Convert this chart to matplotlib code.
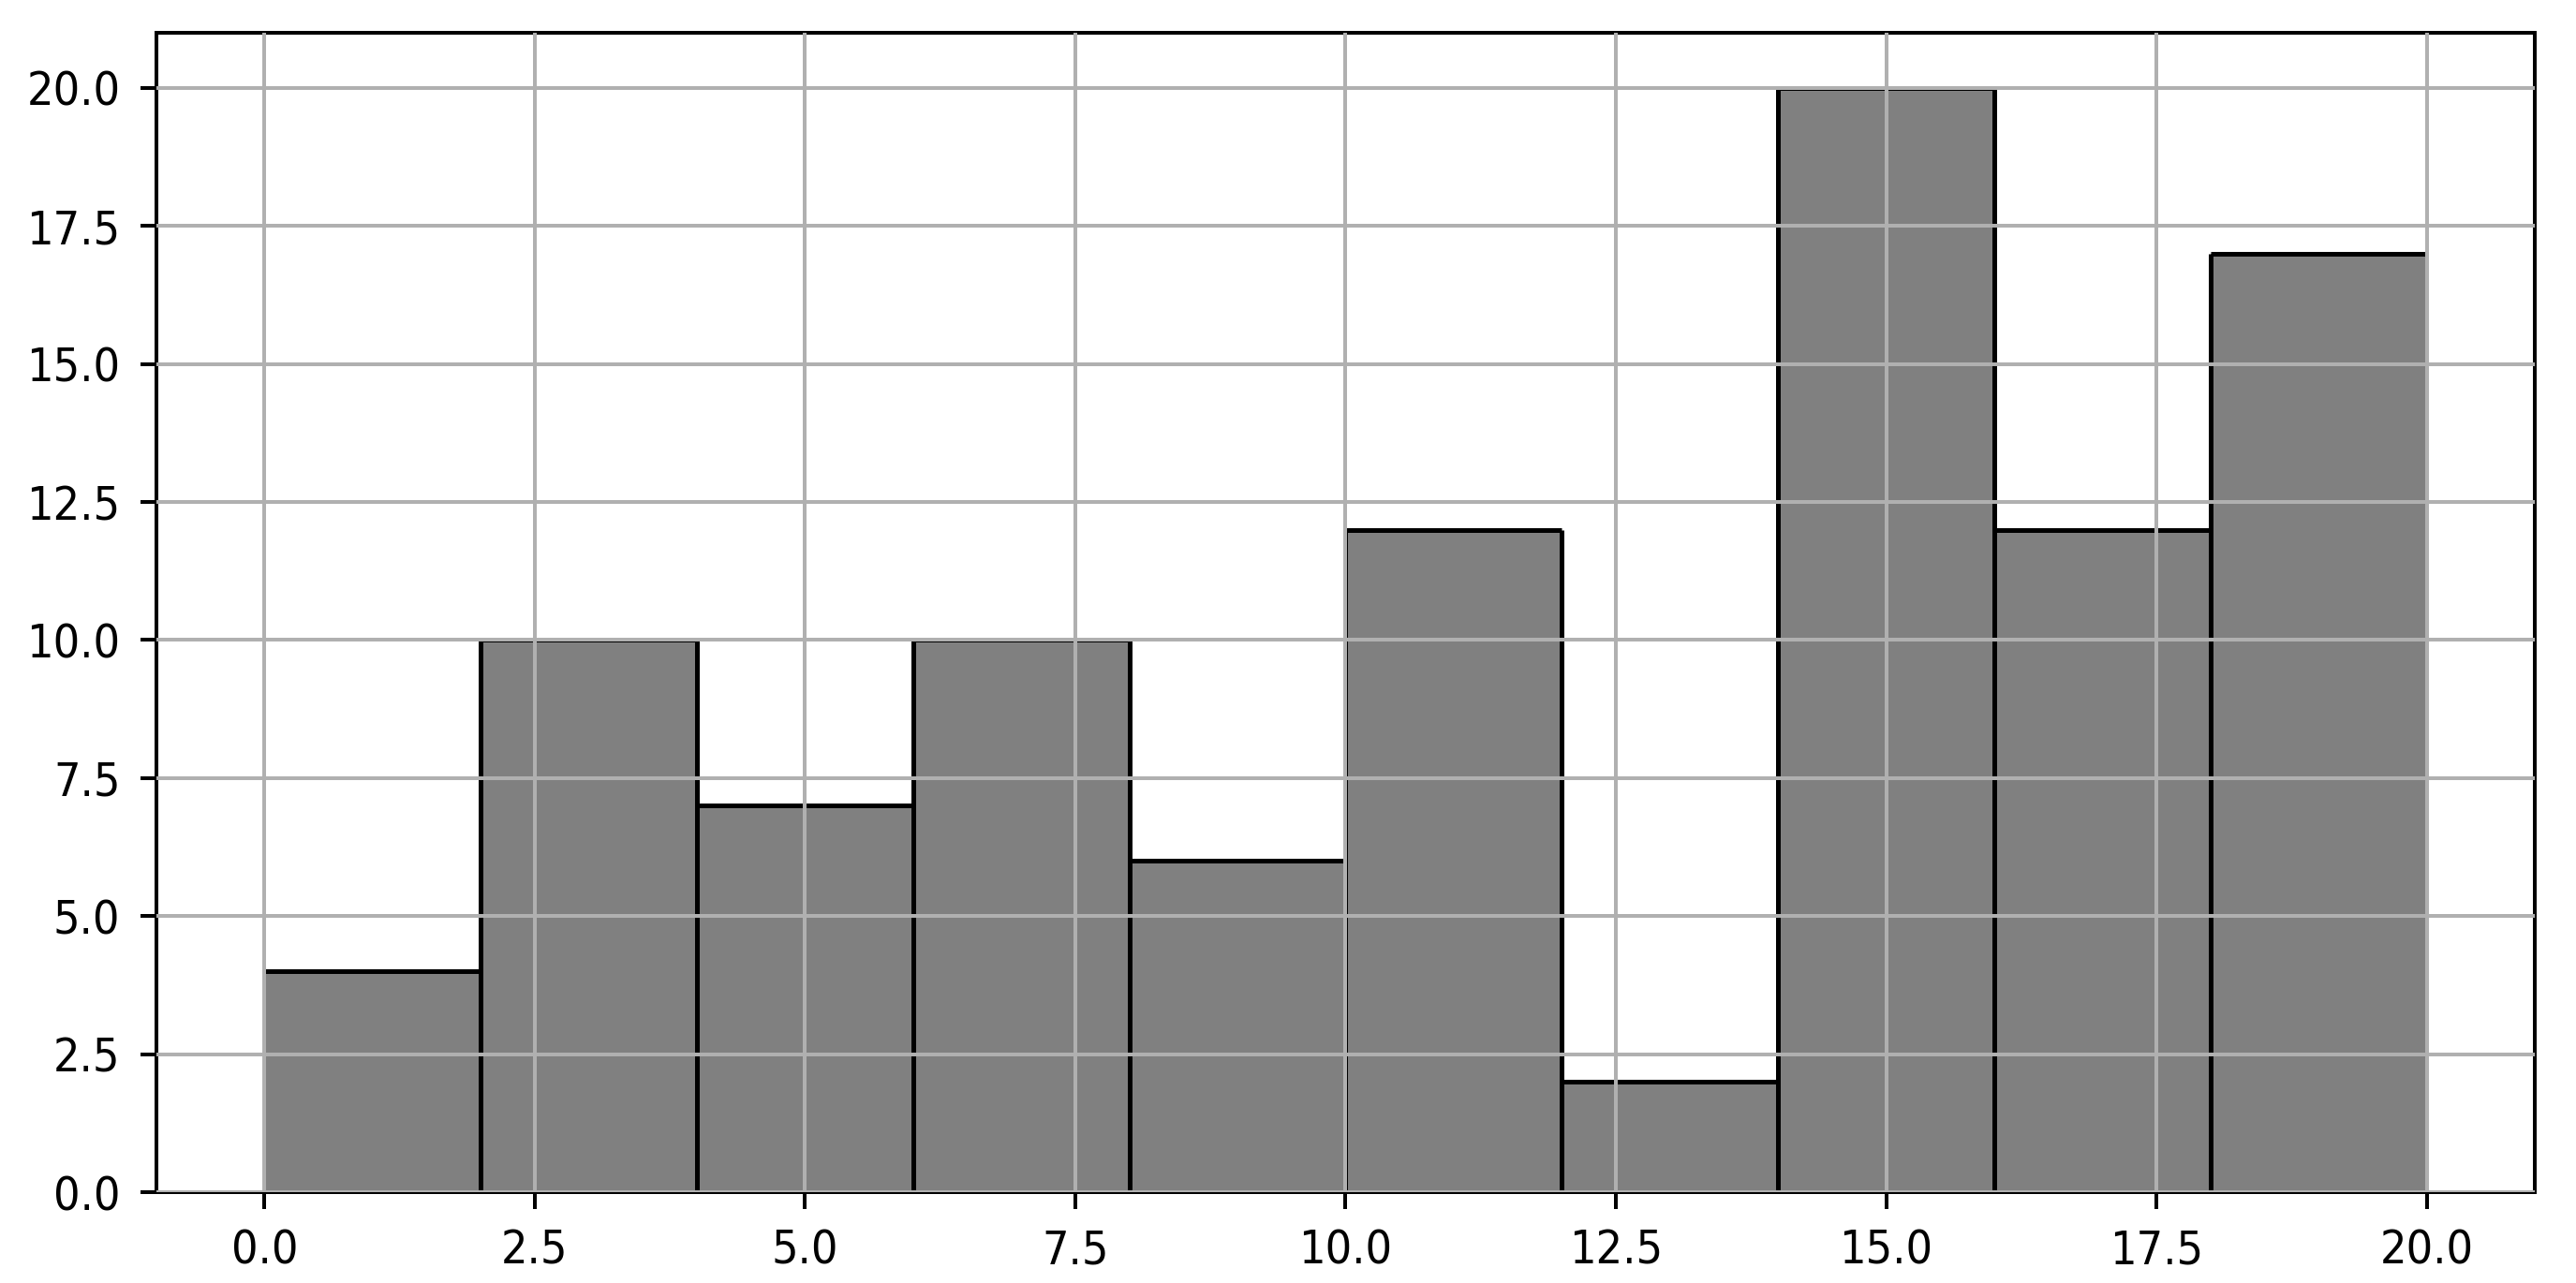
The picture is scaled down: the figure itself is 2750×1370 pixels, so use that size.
import numpy as np
import matplotlib
matplotlib.use("Agg")
import matplotlib.pyplot as plt

# histogram bins and counts
bin_edges = np.arange(0, 22, 2)
counts = np.array([4, 10, 7, 10, 6, 12, 2, 20, 12, 17])

fig = plt.figure(figsize=(2750 / 360, 1370 / 360), dpi=360)
ax = fig.add_axes([0.0607, 0.0708, 0.9233, 0.9037])

# grey filled bars
ax.stairs(counts, bin_edges, fill=True, color="gray", linewidth=0)

# black outline: bar tops plus the inner bar edges
ax.hlines(counts, bin_edges[:-1], bin_edges[1:], color="black", linewidth=1.0)
ax.vlines(bin_edges[1:-1], 0, np.maximum(counts[:-1], counts[1:]),
          color="black", linewidth=1.0)

ax.set_xlim(-1, 21)
ax.set_ylim(0, 21)
ax.set_xticks(np.arange(0, 20.1, 2.5))
ax.set_yticks(np.arange(0, 20.1, 2.5))
ax.tick_params(pad=4.2)
for lbl in ax.get_xticklabels() + ax.get_yticklabels():
    lbl.set_fontstretch("condensed")

# grid drawn above the bars
ax.set_axisbelow(False)
ax.grid(True, color="#b0b0b0", linewidth=0.8)

fig.savefig("out.png", dpi=360)
